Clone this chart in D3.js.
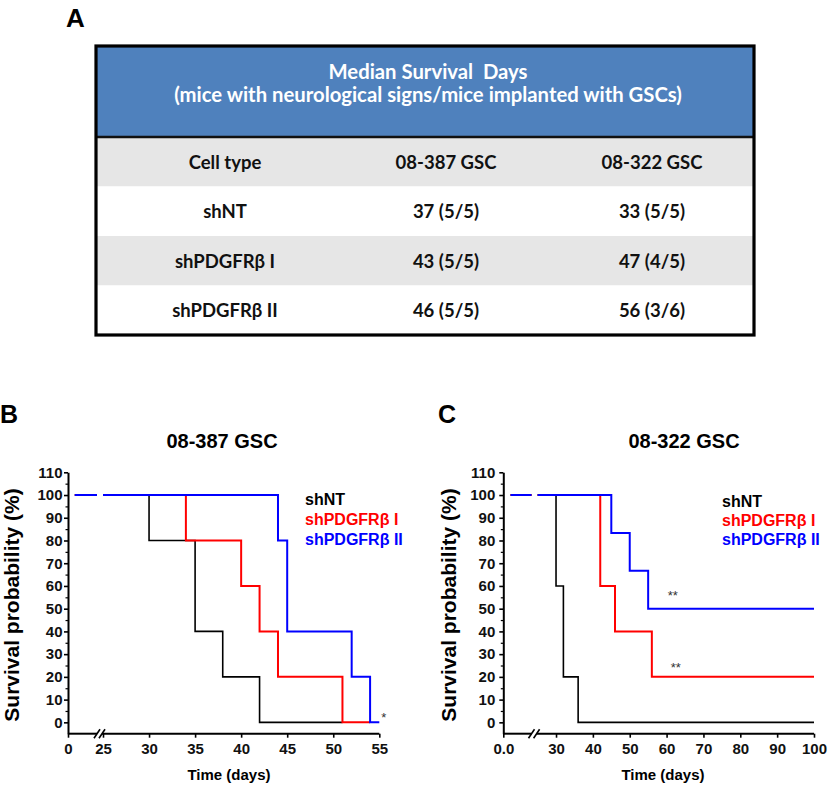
<!DOCTYPE html>
<html>
<head>
<meta charset="utf-8">
<script src="https://cdn.jsdelivr.net/npm/d3@7"></script>
<style>
  html, body { margin: 0; padding: 0; background: #fff; }
  svg { display: block; }
</style>
</head>
<body>
<script>
// ---------------- DATA ----------------
const tableTitle = ["Median Survival  Days", "(mice with neurological signs/mice implanted with GSCs)"];
const tableColumns = ["Cell type", "08-387 GSC", "08-322 GSC"];
const cellTypes = ["shNT", "shPDGFR\u03b2 I", "shPDGFR\u03b2 II"];
const median387 = ["37 (5/5)", "43 (5/5)", "46 (5/5)"];
const median322 = ["33 (5/5)", "47 (4/5)", "56 (3/6)"];

const seriesNames = ["shNT", "shPDGFR\u03b2 I", "shPDGFR\u03b2 II"];
const seriesColors = ["#000000", "#ff0000", "#0000ff"];

const yTicks = [0, 10, 20, 30, 40, 50, 60, 70, 80, 90, 100, 110];
const yMinorTicks = [5, 15, 25, 35, 45, 55, 65, 75, 85, 95, 105];

// Panel B: 08-387 GSC
const xTicksB = [0, 25, 30, 35, 40, 45, 50, 55];
const bShNT_t = [0.7, 30, 35, 38, 42, 51];
const bShNT_s = [100, 80, 40, 20, 0, 0];
const bShI_t = [0.7, 34, 40, 42, 44, 51, 54];
const bShI_s = [100, 80, 60, 40, 20, 0, 0];
const bShII_t = [0.7, 44, 45, 52, 54, 55];
const bShII_s = [100, 80, 40, 20, 0, 0];
const annotB = [{ t: 55, s: 0, text: "*" }];

// Panel C: 08-322 GSC
const xTicksC = [0, 30, 40, 50, 60, 70, 80, 90, 100];
const cShNT_t = [1.8, 30, 32, 36, 100];
const cShNT_s = [100, 60, 20, 0, 0];
const cShI_t = [1.8, 42, 46, 56, 100];
const cShI_s = [100, 60, 40, 20, 20];
const cShII_t = [1.8, 45, 50, 55, 100];
const cShII_s = [100, 83.3, 66.7, 50, 50];
const annotC = [{ t: 61.7, s: 53.6, text: "**" }, { t: 62.5, s: 22.3, text: "**" }];

// ---------------- DRAW ----------------
const W = 830, H = 786;
const svg = d3.select("body").append("svg").attr("width", W).attr("height", H);
svg.append("rect").attr("width", W).attr("height", H).attr("fill", "#fff");

const ARIAL = "'Liberation Sans', Arial, sans-serif";
const CAL = "Lato, 'Open Sans', sans-serif";

// ----- Panel A: table -----
svg.append("text").attr("x", 66).attr("y", 27).text("A")
  .attr("font-family", ARIAL).attr("font-weight", "bold").attr("font-size", 26);

const tL = 96, tR = 754, tTop = 46, hdrBottom = 137, tBottom = 335;
const rowScale = d3.scaleBand().domain(d3.range(4)).range([hdrBottom, tBottom]);
const colCenters = d3.scaleOrdinal().domain([0, 1, 2]).range([225, 446, 652]);

const tg = svg.append("g");
tg.append("rect").attr("x", tL).attr("y", tTop).attr("width", tR - tL).attr("height", hdrBottom - tTop)
  .attr("fill", "#4f81bd");
tg.selectAll("rect.row").data(d3.range(4)).join("rect").attr("class", "row")
  .attr("x", tL).attr("y", d => rowScale(d)).attr("width", tR - tL).attr("height", rowScale.bandwidth())
  .attr("fill", d => d % 2 === 0 ? "#e6e6e6" : "#ffffff");
tg.append("line").attr("x1", tL).attr("x2", tR).attr("y1", hdrBottom).attr("y2", hdrBottom)
  .attr("stroke", "#111").attr("stroke-width", 2.5);
tg.append("rect").attr("x", tL).attr("y", tTop).attr("width", tR - tL).attr("height", tBottom - tTop)
  .attr("fill", "none").attr("stroke", "#000").attr("stroke-width", 3.2);

tg.selectAll("text.hdr").data(tableTitle).join("text").attr("class", "hdr")
  .attr("x", (tL + tR) / 2 + 3).attr("y", (d, i) => 71 + i * 23)
  .attr("text-anchor", "middle").attr("dominant-baseline", "central")
  .attr("font-family", CAL).attr("font-weight", "bold").attr("font-size", 20.3)
  .attr("fill", "#fff").style("white-space", "pre").text(d => d);

const rows = [tableColumns].concat(cellTypes.map((c, i) => [c, median387[i], median322[i]]));
rows.forEach((r, ri) => {
  tg.selectAll(null).data(r).join("text")
    .attr("x", (d, ci) => colCenters(ci))
    .attr("y", rowScale(ri) + rowScale.bandwidth() / 2)
    .attr("text-anchor", "middle").attr("dominant-baseline", "central")
    .attr("font-family", CAL).attr("font-weight", "bold").attr("font-size", 18.5)
    .attr("fill", "#111").text(d => d);
});

// ----- KM panels -----
const yScale = d3.scaleLinear().domain([-5, 110]).range([733.7, 472.3]);

function drawPanel(cfg, idx) {
  const g = svg.append("g");
  const x = d3.scaleLinear().domain(cfg.domain).range(cfg.range);
  const axisY = yScale(-5);
  const x25 = x(25);

  g.append("text").attr("x", cfg.letterX).attr("y", 423).text(cfg.letter)
    .attr("font-family", ARIAL).attr("font-weight", "bold").attr("font-size", 25);
  g.append("text").attr("x", cfg.titleX).attr("y", 448).attr("text-anchor", "middle").text(cfg.title)
    .attr("font-family", ARIAL).attr("font-weight", "bold").attr("font-size", 20);

  const cid = "clip" + idx;
  const cp = svg.append("clipPath").attr("id", cid);
  cp.append("rect").attr("x", cfg.range[0] - 2).attr("y", 0).attr("width", cfg.range[1] - cfg.range[0] + 2).attr("height", H);
  cp.append("rect").attr("x", x25).attr("y", 0).attr("width", W - x25).attr("height", H);

  const line = d3.line().x(d => x(d.t)).y(d => yScale(d.s)).curve(d3.curveStepAfter);
  const cg = g.append("g").attr("clip-path", `url(#${cid})`);
  cfg.series.forEach((s, i) => {
    const pts = s.t.map((t, k) => ({ t: t, s: s.s[k] }));
    cg.append("path").datum(pts).attr("d", line).attr("fill", "none")
      .attr("stroke", seriesColors[i]).attr("stroke-width", i === 0 ? 1.6 : 2);
  });

  const ya = g.append("g").attr("transform", `translate(${cfg.range[0]},0)`)
    .call(d3.axisLeft(yScale).tickValues(yTicks).tickSize(4).tickSizeOuter(0).tickPadding(cfg.yPad));
  ya.select(".domain").attr("stroke-width", 2);
  ya.selectAll(".tick line").attr("stroke-width", 1.6);
  ya.selectAll("text").attr("font-family", ARIAL).attr("font-weight", "bold").attr("font-size", 15).attr("fill", "#111");
  const ym = g.append("g").attr("transform", `translate(${cfg.range[0]},0)`)
    .call(d3.axisLeft(yScale).tickValues(yMinorTicks).tickSize(2.5).tickFormat(""));
  ym.select(".domain").remove();
  ym.selectAll(".tick line").attr("stroke-width", 1.2);

  const xa = g.append("g").attr("transform", `translate(0,${axisY})`)
    .call(d3.axisBottom(x).tickValues(cfg.ticks).tickSize(4).tickPadding(6).tickFormat(cfg.fmt));
  xa.select(".domain").remove();
  xa.selectAll(".tick line").attr("stroke-width", 1.6);
  xa.selectAll("text").attr("font-family", ARIAL).attr("font-weight", "bold").attr("font-size", 15).attr("fill", "#111");
  const seg2Start = x25 - 1;
  const xmax = cfg.range[cfg.range.length - 1];
  g.append("line").attr("x1", cfg.range[0]).attr("x2", cfg.range[1]).attr("y1", axisY).attr("y2", axisY)
    .attr("stroke", "#000").attr("stroke-width", 2);
  g.append("line").attr("x1", seg2Start).attr("x2", xmax).attr("y1", axisY).attr("y2", axisY)
    .attr("stroke", "#000").attr("stroke-width", 2);
  [cfg.range[1], seg2Start].forEach(px => {
    g.append("line").attr("x1", px - 3).attr("y1", axisY + 4.5).attr("x2", px + 3).attr("y2", axisY - 4.5)
      .attr("stroke", "#000").attr("stroke-width", 1.6);
  });

  g.append("text").attr("transform", `translate(${cfg.yLabelX},${(yScale(110) + yScale(-5)) / 2 + 2}) rotate(-90)`)
    .attr("text-anchor", "middle").attr("dominant-baseline", "central").text("Survival probability (%)")
    .attr("font-family", ARIAL).attr("font-weight", "bold").attr("font-size", 21);
  g.append("text").attr("x", cfg.xLabelX).attr("y", 780).attr("text-anchor", "middle").text("Time (days)")
    .attr("font-family", ARIAL).attr("font-weight", "bold").attr("font-size", 15);

  seriesNames.forEach((n, i) => {
    g.append("text").attr("x", cfg.legendX).attr("y", cfg.legendY[i]).text(n)
      .attr("font-family", ARIAL).attr("font-weight", "bold").attr("font-size", 16)
      .attr("fill", seriesColors[i]);
  });

  cfg.annot.forEach(a => {
    g.append("text").attr("x", x(a.t) + (cfg.annotDx || 0)).attr("y", yScale(a.s))
      .attr("text-anchor", cfg.annotAnchor).text(a.text)
      .attr("font-family", ARIAL).attr("font-size", 13).attr("fill", "#333");
  });
}

drawPanel({
  letter: "B", letterX: 0, title: "08-387 GSC", titleX: 222,
  domain: [0, 3, 25, 55], range: [68, 97, 103, 379.3],
  ticks: xTicksB, fmt: d3.format("d"), yPad: 1.5,
  series: [{ t: bShNT_t, s: bShNT_s }, { t: bShI_t, s: bShI_s }, { t: bShII_t, s: bShII_s }],
  legendX: 305, legendY: [505, 525, 545],
  yLabelX: 11, xLabelX: 229,
  annot: annotB, annotDx: 2, annotAnchor: "start"
}, 0);

drawPanel({
  letter: "C", letterX: 438, title: "08-322 GSC", titleX: 684,
  domain: [0, 7, 25, 100], range: [503.3, 531.5, 537.6, 814],
  ticks: xTicksC, fmt: d => d === 0 ? "0.0" : d3.format("d")(d), yPad: 4,
  series: [{ t: cShNT_t, s: cShNT_s }, { t: cShI_t, s: cShI_s }, { t: cShII_t, s: cShII_s }],
  legendX: 722, legendY: [507, 526, 545],
  yLabelX: 448, xLabelX: 663,
  annot: annotC, annotDx: 0, annotAnchor: "middle"
}, 1);
</script>
</body>
</html>
